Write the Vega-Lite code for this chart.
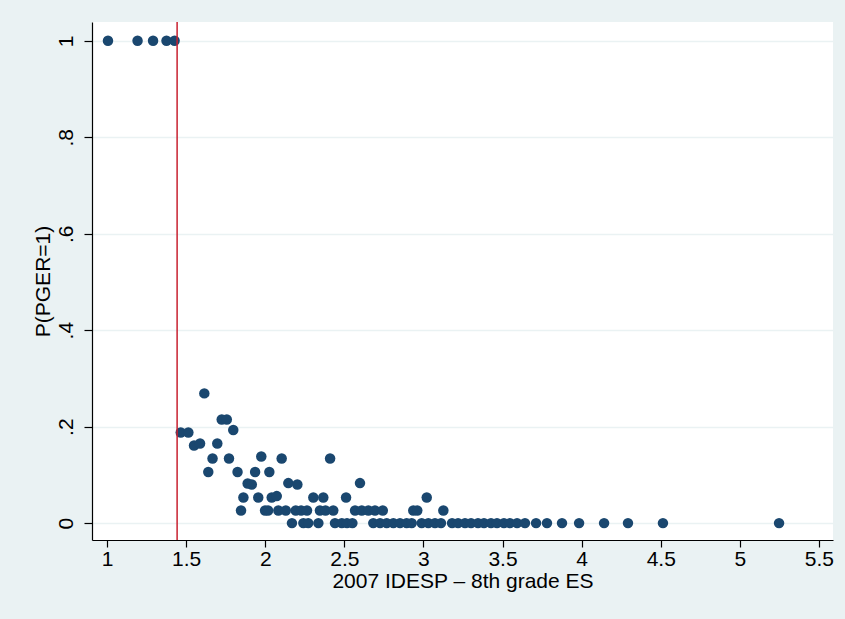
{
  "$schema": "https://vega.github.io/schema/vega-lite/v6.json",
  "autosize": {"type": "none"},
  "width": 741,
  "height": 518,
  "padding": {"left": 92, "top": 22, "right": 12, "bottom": 79},
  "background": "#EAF2F3",
  "config": {
    "view": {"fill": "white", "stroke": null},
    "font": "Liberation Sans"
  },
  "datasets": {
    "pts": [
      {"x": 1.006, "y": 1}, {"x": 1.193, "y": 1}, {"x": 1.291, "y": 1}, {"x": 1.376, "y": 1}, {"x": 1.427, "y": 1},
      {"x": 1.615, "y": 0.269},
      {"x": 1.466, "y": 0.188}, {"x": 1.514, "y": 0.188},
      {"x": 1.550, "y": 0.161}, {"x": 1.588, "y": 0.165},
      {"x": 1.725, "y": 0.215}, {"x": 1.757, "y": 0.215},
      {"x": 1.798, "y": 0.193},
      {"x": 1.697, "y": 0.165},
      {"x": 1.667, "y": 0.134}, {"x": 1.771, "y": 0.134}, {"x": 2.104, "y": 0.134}, {"x": 2.410, "y": 0.134},
      {"x": 1.975, "y": 0.138},
      {"x": 1.640, "y": 0.106}, {"x": 1.825, "y": 0.106}, {"x": 1.936, "y": 0.106}, {"x": 2.026, "y": 0.106},
      {"x": 1.889, "y": 0.082}, {"x": 1.915, "y": 0.080}, {"x": 2.146, "y": 0.083}, {"x": 2.203, "y": 0.080}, {"x": 2.599, "y": 0.083},
      {"x": 1.862, "y": 0.053}, {"x": 1.956, "y": 0.053}, {"x": 2.041, "y": 0.053}, {"x": 2.073, "y": 0.056}, {"x": 2.304, "y": 0.053}, {"x": 2.367, "y": 0.053}, {"x": 2.511, "y": 0.053}, {"x": 3.021, "y": 0.053},
      {"x": 1.847, "y": 0.026}, {"x": 1.999, "y": 0.026}, {"x": 2.018, "y": 0.026}, {"x": 2.083, "y": 0.026}, {"x": 2.130, "y": 0.026}, {"x": 2.193, "y": 0.026}, {"x": 2.227, "y": 0.026}, {"x": 2.264, "y": 0.026}, {"x": 2.346, "y": 0.026}, {"x": 2.381, "y": 0.026}, {"x": 2.430, "y": 0.026}, {"x": 2.568, "y": 0.026}, {"x": 2.610, "y": 0.026}, {"x": 2.652, "y": 0.026}, {"x": 2.694, "y": 0.026}, {"x": 2.743, "y": 0.026}, {"x": 2.936, "y": 0.026}, {"x": 2.961, "y": 0.026}, {"x": 3.126, "y": 0.026},
      {"x": 2.169, "y": 0}, {"x": 2.241, "y": 0}, {"x": 2.272, "y": 0}, {"x": 2.336, "y": 0}, {"x": 2.441, "y": 0}, {"x": 2.484, "y": 0}, {"x": 2.517, "y": 0}, {"x": 2.551, "y": 0},
      {"x": 2.683, "y": 0}, {"x": 2.726, "y": 0}, {"x": 2.768, "y": 0}, {"x": 2.810, "y": 0}, {"x": 2.852, "y": 0}, {"x": 2.894, "y": 0}, {"x": 2.926, "y": 0}, {"x": 2.989, "y": 0},
      {"x": 3.031, "y": 0}, {"x": 3.073, "y": 0}, {"x": 3.111, "y": 0}, {"x": 3.181, "y": 0}, {"x": 3.219, "y": 0}, {"x": 3.263, "y": 0}, {"x": 3.301, "y": 0}, {"x": 3.345, "y": 0},
      {"x": 3.383, "y": 0}, {"x": 3.427, "y": 0}, {"x": 3.465, "y": 0}, {"x": 3.509, "y": 0}, {"x": 3.547, "y": 0}, {"x": 3.592, "y": 0}, {"x": 3.642, "y": 0}, {"x": 3.712, "y": 0},
      {"x": 3.781, "y": 0}, {"x": 3.876, "y": 0}, {"x": 3.984, "y": 0}, {"x": 4.142, "y": 0}, {"x": 4.293, "y": 0}, {"x": 4.514, "y": 0}, {"x": 5.248, "y": 0}
    ],
    "cut": [{"x": 1.443}]
  },
  "layer": [
    {
      "data": {"name": "pts"},
      "mark": {"type": "point", "filled": true, "size": 110, "opacity": 1, "color": "#1A476F"},
      "encoding": {
        "x": {
          "field": "x", "type": "quantitative",
          "scale": {"domain": [0.905, 5.589], "nice": false, "zero": false},
          "axis": {
            "values": [1, 1.5, 2, 2.5, 3, 3.5, 4, 4.5, 5, 5.5],
            "labelExpr": "format(datum.value, '~g')",
            "title": "2007 IDESP – 8th grade ES",
            "grid": false,
            "domainColor": "black", "domainWidth": 1.2,
            "tickColor": "black", "tickWidth": 1.2, "tickSize": 7,
            "labelFont": "Liberation Sans", "labelFontSize": 21, "labelColor": "black", "labelPadding": 1,
            "titleFont": "Liberation Sans", "titleFontSize": 21, "titleFontWeight": "normal", "titleColor": "black", "titlePadding": 1
          }
        },
        "y": {
          "field": "y", "type": "quantitative",
          "scale": {"domain": [-0.035, 1.039], "nice": false, "zero": false},
          "axis": {
            "values": [0, 0.2, 0.4, 0.6, 0.8, 1],
            "labelExpr": "datum.value == 0 ? '0' : datum.value == 1 ? '1' : replace(format(datum.value, '.1f'), '0.', '.')",
            "title": "P(PGER=1)",
            "grid": true, "gridColor": "#EAF2F3", "gridWidth": 1.5,
            "domainColor": "black", "domainWidth": 1.2,
            "tickColor": "black", "tickWidth": 1.2, "tickSize": 8,
            "labelAngle": -90, "labelAlign": "center", "labelBaseline": "alphabetic",
            "labelFont": "Liberation Sans", "labelFontSize": 21, "labelColor": "black", "labelPadding": 12,
            "titleFont": "Liberation Sans", "titleFontSize": 21, "titleFontWeight": "normal", "titleColor": "black", "titlePadding": 2
          }
        }
      }
    },
    {
      "data": {"name": "cut"},
      "mark": {"type": "rule", "color": "#C8202F", "strokeWidth": 1.5},
      "encoding": {"x": {"field": "x", "type": "quantitative"}}
    }
  ]
}
